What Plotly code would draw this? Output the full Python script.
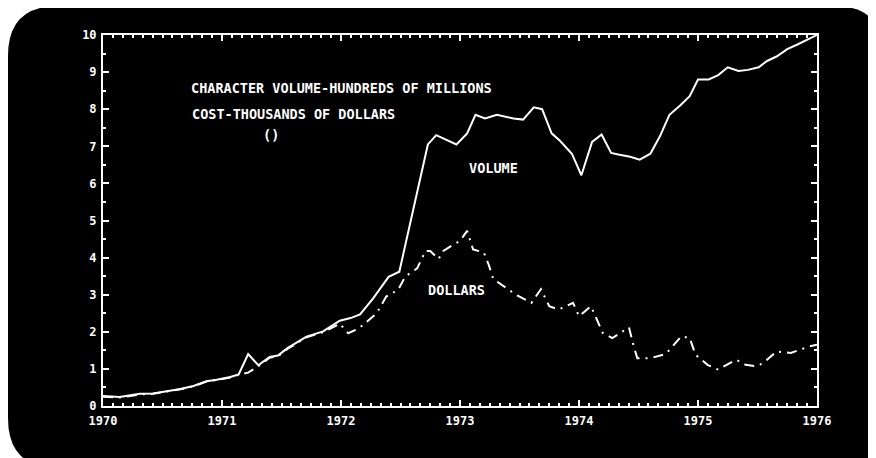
import plotly.graph_objects as go

# ---- data (decimal years) ----
volume_t = [1970.00, 1970.14, 1970.31, 1970.42, 1970.535, 1970.65, 1970.76, 1970.87, 1970.955,
            1971.07, 1971.14, 1971.22, 1971.305, 1971.40, 1971.47, 1971.55, 1971.71, 1971.85,
            1971.99, 1972.08, 1972.16, 1972.27, 1972.40, 1972.45, 1972.49, 1972.73, 1972.80,
            1972.97, 1973.06, 1973.13, 1973.21, 1973.31, 1973.45, 1973.53, 1973.62, 1973.69,
            1973.77, 1973.84, 1973.94, 1974.02, 1974.11, 1974.19, 1974.27, 1974.34, 1974.43,
            1974.51, 1974.60, 1974.68, 1974.76, 1974.85, 1974.93, 1975.00, 1975.09, 1975.17,
            1975.25, 1975.34, 1975.42, 1975.51, 1975.58, 1975.66, 1975.75, 1975.84, 1976.00]
volume_v = [0.27, 0.24, 0.33, 0.34, 0.40, 0.46, 0.54, 0.67, 0.71,
            0.78, 0.85, 1.40, 1.10, 1.32, 1.36, 1.56, 1.87, 2.01,
            2.30, 2.37, 2.47, 2.90, 3.48, 3.56, 3.62, 7.05, 7.30,
            7.05, 7.35, 7.85, 7.75, 7.85, 7.75, 7.72, 8.05, 8.00,
            7.35, 7.15, 6.80, 6.22, 7.12, 7.32, 6.82, 6.77, 6.72,
            6.64, 6.80, 7.27, 7.85, 8.10, 8.35, 8.80, 8.80, 8.92,
            9.13, 9.03, 9.06, 9.13, 9.30, 9.42, 9.62, 9.75, 10.0]

dollars_t = [1970.00, 1970.14, 1970.31, 1970.42, 1970.535, 1970.65, 1970.76, 1970.87, 1970.955,
             1971.07, 1971.14, 1971.22, 1971.31, 1971.40, 1971.47, 1971.55, 1971.71, 1971.85,
             1971.99, 1972.06, 1972.15, 1972.22, 1972.30, 1972.38, 1972.48, 1972.54, 1972.64,
             1972.71, 1972.75, 1972.82, 1972.86, 1972.93, 1973.00, 1973.06, 1973.11, 1973.20,
             1973.24, 1973.28, 1973.36, 1973.48, 1973.60, 1973.68, 1973.75, 1973.83, 1973.95,
             1974.00, 1974.10, 1974.16, 1974.20, 1974.28, 1974.42, 1974.46, 1974.49, 1974.60,
             1974.73, 1974.86, 1974.93, 1974.98, 1975.08, 1975.17, 1975.32, 1975.40, 1975.49,
             1975.55, 1975.66, 1975.78, 1975.94, 1976.00]
dollars_v = [0.25, 0.23, 0.31, 0.33, 0.39, 0.45, 0.53, 0.66, 0.70,
             0.77, 0.84, 0.90, 1.08, 1.30, 1.34, 1.54, 1.85, 1.99,
             2.22, 1.96, 2.09, 2.27, 2.50, 2.95, 3.13, 3.49, 3.71,
             4.18, 4.18, 3.96, 4.18, 4.32, 4.45, 4.72, 4.22, 4.14,
             3.82, 3.42, 3.24, 2.98, 2.78, 3.15, 2.69, 2.60, 2.78,
             2.42, 2.69, 2.28, 1.97, 1.83, 2.12, 1.61, 1.29, 1.29,
             1.40, 1.88, 1.83, 1.38, 1.11, 0.98, 1.25, 1.11, 1.07,
             1.16, 1.47, 1.43, 1.61, 1.65]

x_ticks = [1970, 1971, 1972, 1973, 1974, 1975, 1976]
x_tick_labels = ["1970", "1971", "1972", "1973", "1974", "1975", "1976"]
y_ticks = [0, 1, 2, 3, 4, 5, 6, 7, 8, 9, 10]
y_tick_labels = ["0", "1", "2", "3", "4", "5", "6", "7", "8", "9", "10"]

# ---- layout geometry (page has an 8px body offset) ----
OFF = 8
W, H = 876, 458
L, R, T, B = 103 - OFF, 59 + OFF, 35 - OFF, 52 + OFF
PW, PH = W - L - R, H - T - B

def px(x):
    # window pixel -> paper coordinate
    return (x - OFF - L) / PW

def py(y):
    return (H - B - (y - OFF)) / PH

def rounded_rect(x0, y0, x1, y1, r):
    pts = [
        f"M {px(x0 + r)},{py(y0)}",
        f"L {px(x1 - r)},{py(y0)}",
        f"Q {px(x1)},{py(y0)} {px(x1)},{py(y0 + r)}",
        f"L {px(x1)},{py(y1 - r)}",
        f"Q {px(x1)},{py(y1)} {px(x1 - r)},{py(y1)}",
        f"L {px(x0 + r)},{py(y1)}",
        f"Q {px(x0)},{py(y1)} {px(x0)},{py(y1 - r)}",
        f"L {px(x0)},{py(y0 + r)}",
        f"Q {px(x0)},{py(y0)} {px(x0 + r)},{py(y0)}",
        "Z",
    ]
    return " ".join(pts)

FONT = "DejaVu Sans Mono"
fig = go.Figure()
fig.add_trace(go.Scatter(x=volume_t, y=volume_v, mode="lines",
                         line=dict(color="white", width=2), name="VOLUME"))
fig.add_trace(go.Scatter(x=dollars_t, y=dollars_v, mode="lines",
                         line=dict(color="white", width=2, dash="10px,6px,2px,6px"),
                         name="DOLLARS"))

ann_font = dict(family=FONT, size=13.5, color="white", weight="bold")
annotations = [
    dict(x=1970.72, y=8.57, text="CHARACTER VOLUME-HUNDREDS OF MILLIONS", xanchor="left"),
    dict(x=1970.73, y=7.87, text="COST-THOUSANDS OF DOLLARS", xanchor="left"),
    dict(x=1971.41, y=7.30, text="()", xanchor="center"),
    dict(x=1973.28, y=6.41, text="VOLUME", xanchor="center"),
    dict(x=1972.97, y=3.13, text="DOLLARS", xanchor="center"),
]
for a in annotations:
    a.update(showarrow=False, yanchor="middle", font=ann_font, xref="x", yref="y")

tick_font = dict(family=FONT, size=12, color="white", weight="bold")
fig.update_layout(
    width=W, height=H,
    margin=dict(l=L, r=R, t=T, b=B),
    paper_bgcolor="white",
    plot_bgcolor="rgba(0,0,0,0)",
    showlegend=False,
    annotations=annotations,
    shapes=[dict(type="path", xref="paper", yref="paper",
                 path=rounded_rect(8, 6, 884, 468, 50),
                 fillcolor="black", line=dict(width=0), layer="below")],
    xaxis=dict(range=[1970, 1976], tickvals=x_ticks, ticktext=x_tick_labels,
               showgrid=False, zeroline=False, showline=True, linecolor="white",
               linewidth=2, mirror="allticks", ticks="inside", ticklen=6,
               tickwidth=2, tickcolor="white", tickfont=tick_font,
               ticklabelstandoff=3,
               minor=dict(dtick=1/12, tick0=1970, ticks="inside", ticklen=3,
                          tickwidth=2, tickcolor="white", showgrid=False)),
    yaxis=dict(range=[0, 10], tickvals=y_ticks, ticktext=y_tick_labels,
               showgrid=False, zeroline=False, showline=True, linecolor="white",
               linewidth=2, mirror="allticks", ticks="inside", ticklen=6,
               tickwidth=2, tickcolor="white", tickfont=tick_font,
               ticklabelstandoff=2,
               minor=dict(dtick=0.5, tick0=0, ticks="inside", ticklen=3,
                          tickwidth=2, tickcolor="white", showgrid=False)),
)

fig.write_html("out.html")
